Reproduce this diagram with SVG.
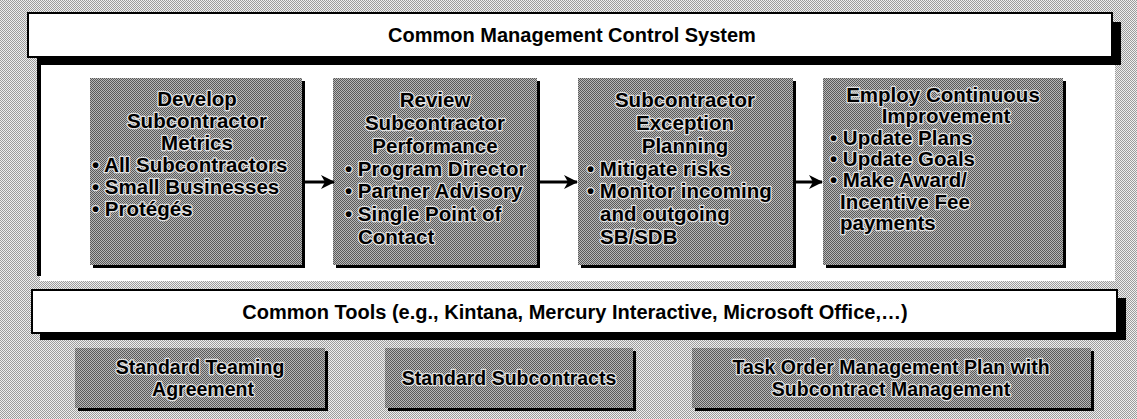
<svg xmlns="http://www.w3.org/2000/svg" width="1137" height="419" viewBox="0 0 1137 419">
<defs>
<pattern id="bgtex" width="2" height="2" patternUnits="userSpaceOnUse">
<rect width="2" height="2" fill="#efefef"/>
<rect width="1" height="1" fill="#9c9c9c"/>
<rect x="1" y="1" width="1" height="1" fill="#9c9c9c"/>
</pattern>
<pattern id="boxtex" width="2" height="2" patternUnits="userSpaceOnUse">
<rect width="2" height="2" fill="#b8b8b8"/>
<rect width="1" height="1" fill="#5a5a5a"/>
<rect x="1" y="1" width="1" height="1" fill="#5a5a5a"/>
</pattern>
<marker id="arr" viewBox="0 0 14 14" refX="13" refY="7" markerWidth="14" markerHeight="14" markerUnits="userSpaceOnUse" orient="auto">
<path d="M0,0 L14,7 L0,14 L4,7 Z" fill="#000"/>
</marker>
</defs>
<style>
.banner{fill:#fff;stroke:#000;stroke-width:2}
.shadow{fill:#000}
.box{fill:url(#boxtex)}
.bt{font-family:"Liberation Sans",Arial,sans-serif;font-weight:bold;font-size:20px;fill:#000}
.t{font-family:"Liberation Sans",Arial,sans-serif;font-weight:bold;font-size:20.5px;fill:#000;stroke:#e2e2e2;stroke-width:2.5;paint-order:stroke;stroke-linejoin:round}
.s{font-family:"Liberation Sans",Arial,sans-serif;font-weight:bold;font-size:19.5px;fill:#000;stroke:#e2e2e2;stroke-width:2.5;paint-order:stroke;stroke-linejoin:round}
.c{text-anchor:middle}
.conn{stroke:#000;stroke-width:3;fill:none}
</style>
<rect width="1137" height="419" fill="url(#bgtex)"/>
<g id="panel">
<rect x="40" y="58" width="1075" height="223" fill="#fff"/>
<rect x="37" y="58" width="4" height="218" fill="#000"/>
</g>
<g id="cmcs">
<rect class="shadow" x="37" y="22" width="1084" height="43"/>
<rect class="banner" x="28" y="13" width="1084" height="44"/>
<text class="bt c" x="572" y="42">Common Management Control System</text>
</g>
<g id="box1">
<rect class="shadow" x="93" y="81" width="212" height="187"/>
<rect class="box" x="90" y="78" width="212" height="187"/>
<text class="t c" x="197" y="106">Develop</text>
<text class="t c" x="197" y="128">Subcontractor</text>
<text class="t c" x="197" y="150">Metrics</text>
<text class="t" x="92" y="172">• All Subcontractors</text>
<text class="t" x="92" y="194">• Small Businesses</text>
<text class="t" x="92" y="216">• Protégés</text>
</g>
<g id="box2">
<rect class="shadow" x="336" y="81" width="204" height="187"/>
<rect class="box" x="333" y="78" width="204" height="187"/>
<text class="t c" x="435" y="107">Review</text>
<text class="t c" x="435" y="130">Subcontractor</text>
<text class="t c" x="435" y="153">Performance</text>
<text class="t" x="345" y="176">• Program Director</text>
<text class="t" x="345" y="198">• Partner Advisory</text>
<text class="t" x="345" y="221">• Single Point of</text>
<text class="t" x="358" y="244">Contact</text>
</g>
<g id="box3">
<rect class="shadow" x="581" y="81" width="215" height="187"/>
<rect class="box" x="578" y="78" width="215" height="187"/>
<text class="t c" x="685" y="107">Subcontractor</text>
<text class="t c" x="685" y="130">Exception</text>
<text class="t c" x="685" y="153">Planning</text>
<text class="t" x="587" y="176">• Mitigate risks</text>
<text class="t" x="587" y="198">• Monitor incoming</text>
<text class="t" x="600" y="221">and outgoing</text>
<text class="t" x="600" y="244">SB/SDB</text>
</g>
<g id="box4">
<rect class="shadow" x="826" y="81" width="240" height="187"/>
<rect class="box" x="823" y="78" width="240" height="187"/>
<text class="t c" x="943" y="102">Employ Continuous</text>
<text class="t c" x="946" y="123">Improvement</text>
<text class="t" x="830" y="145">• Update Plans</text>
<text class="t" x="830" y="166">• Update Goals</text>
<text class="t" x="830" y="187">• Make Award/</text>
<text class="t" x="840" y="209">Incentive Fee</text>
<text class="t" x="840" y="230">payments</text>
</g>
<g id="connectors">
<line class="conn" x1="305" y1="182" x2="334" y2="182" marker-end="url(#arr)"/>
<line class="conn" x1="540" y1="182" x2="577" y2="182" marker-end="url(#arr)"/>
<line class="conn" x1="796" y1="182" x2="822" y2="182" marker-end="url(#arr)"/>
</g>
<g id="tools">
<rect class="shadow" x="40" y="298" width="1086" height="42"/>
<rect class="banner" x="32" y="290" width="1085" height="43"/>
<text class="bt c" x="575" y="319">Common Tools (e.g., Kintana, Mercury Interactive, Microsoft Office,…)</text>
</g>
<g id="teaming">
<rect class="shadow" x="78" y="351" width="250" height="60"/>
<rect class="box" x="75" y="348" width="250" height="60"/>
<text class="s c" x="200" y="374">Standard Teaming</text>
<text class="s c" x="203" y="396">Agreement</text>
</g>
<g id="subcontracts">
<rect class="shadow" x="388" y="351" width="248" height="60"/>
<rect class="box" x="385" y="348" width="248" height="60"/>
<text class="s c" x="509" y="385">Standard Subcontracts</text>
</g>
<g id="taskorder">
<rect class="shadow" x="695" y="351" width="399" height="60"/>
<rect class="box" x="692" y="348" width="399" height="60"/>
<text class="s c" x="891" y="374">Task Order Management Plan with</text>
<text class="s c" x="891" y="396">Subcontract Management</text>
</g>
</svg>
